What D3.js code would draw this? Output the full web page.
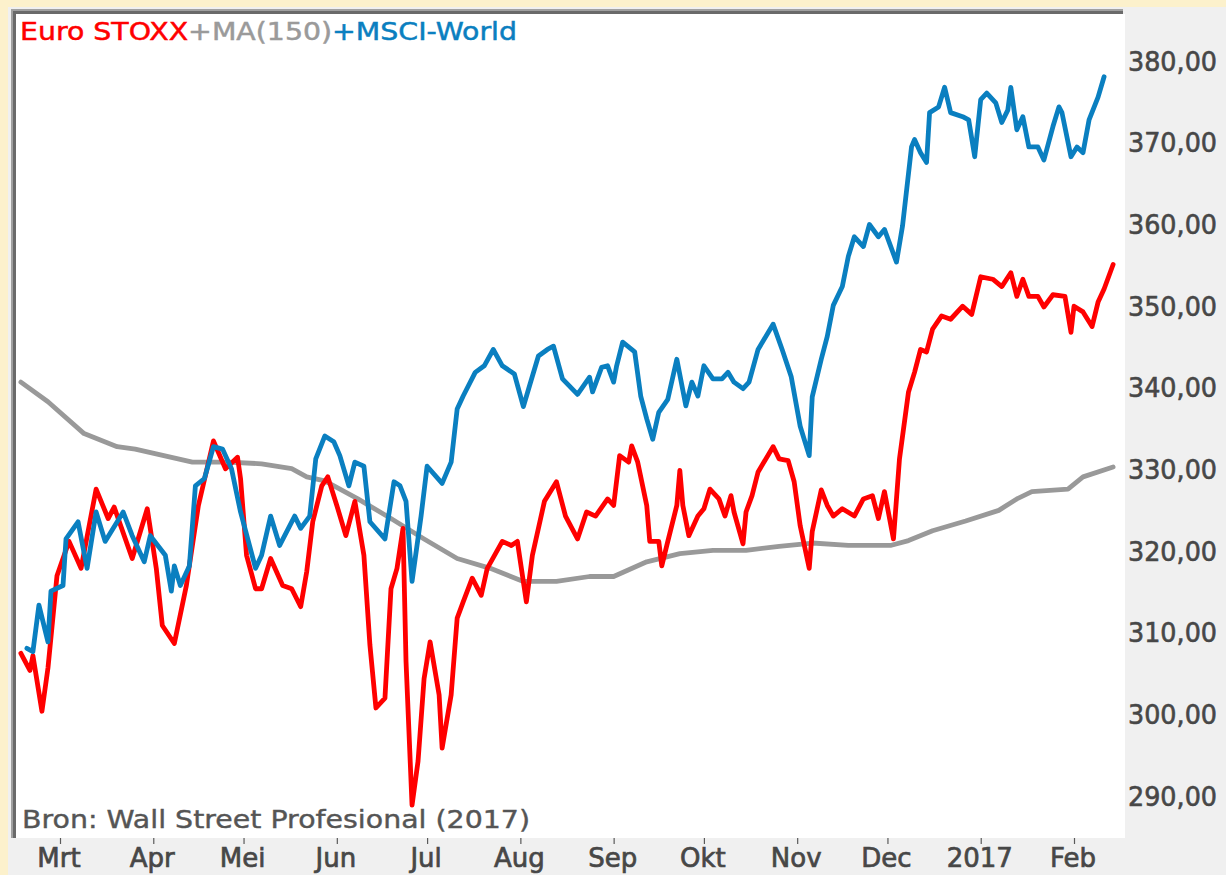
<!DOCTYPE html>
<html>
<head>
<meta charset="utf-8">
<script src="https://cdn.jsdelivr.net/npm/d3@7"></script>
<style>
  html, body { margin: 0; padding: 0; background: #fcf1cc; }
  svg { display: block; }
</style>
</head>
<body>
<div id="chart"></div>
<script>
// Euro STOXX (rood)
const euroStoxx = [
  ['2016-02-17', 307.6], ['2016-02-20', 305.5], ['2016-02-21', 307.3], ['2016-02-24', 300.5], ['2016-02-26', 305.8], ['2016-02-29', 317.1],
  ['2016-03-04', 321.3], ['2016-03-08', 318.0], ['2016-03-13', 327.7], ['2016-03-17', 324.1], ['2016-03-19', 325.5], ['2016-03-25', 319.2], ['2016-03-30', 325.3],
  ['2016-04-02', 318.0], ['2016-04-04', 311.0], ['2016-04-08', 308.8], ['2016-04-12', 315.9], ['2016-04-16', 325.7], ['2016-04-21', 333.6], ['2016-04-25', 330.2], ['2016-04-29', 331.6], ['2016-04-30', 329.0],
  ['2016-05-02', 319.6], ['2016-05-05', 315.5], ['2016-05-07', 315.5], ['2016-05-10', 319.2], ['2016-05-14', 315.9], ['2016-05-17', 315.5], ['2016-05-20', 313.3], ['2016-05-22', 317.6], ['2016-05-24', 323.7], ['2016-05-27', 328.1], ['2016-05-29', 329.2],
  ['2016-06-01', 325.7], ['2016-06-04', 322.0], ['2016-06-07', 326.2], ['2016-06-10', 319.6], ['2016-06-12', 308.6], ['2016-06-14', 300.9], ['2016-06-17', 302.1], ['2016-06-19', 315.5], ['2016-06-21', 318.0], ['2016-06-23', 322.9], ['2016-06-24', 306.6], ['2016-06-26', 289.0], ['2016-06-28', 294.4], ['2016-06-30', 304.5],
  ['2016-07-02', 309.0], ['2016-07-05', 302.5], ['2016-07-06', 296.0], ['2016-07-09', 302.5], ['2016-07-11', 311.9], ['2016-07-13', 313.9], ['2016-07-16', 316.8], ['2016-07-19', 314.7], ['2016-07-21', 318.0], ['2016-07-26', 321.3], ['2016-07-29', 320.8], ['2016-07-31', 321.3],
  ['2016-08-03', 313.9], ['2016-08-05', 319.6], ['2016-08-09', 326.2], ['2016-08-13', 328.6], ['2016-08-16', 324.4], ['2016-08-20', 321.6], ['2016-08-23', 324.9], ['2016-08-26', 324.4], ['2016-08-30', 326.5],
  ['2016-09-01', 325.7], ['2016-09-03', 331.8], ['2016-09-06', 331.0], ['2016-09-07', 333.0], ['2016-09-09', 331.0], ['2016-09-12', 325.7], ['2016-09-13', 321.3], ['2016-09-16', 321.3], ['2016-09-17', 318.3], ['2016-09-19', 321.3], ['2016-09-22', 325.7], ['2016-09-23', 330.0], ['2016-09-24', 325.7], ['2016-09-26', 322.0], ['2016-09-29', 324.4],
  ['2016-10-01', 325.3], ['2016-10-03', 327.7], ['2016-10-06', 326.5], ['2016-10-08', 324.4], ['2016-10-10', 326.9], ['2016-10-11', 324.9], ['2016-10-14', 321.0], ['2016-10-15', 324.9], ['2016-10-17', 326.9], ['2016-10-19', 329.8], ['2016-10-24', 332.9], ['2016-10-26', 331.4], ['2016-10-29', 331.2], ['2016-10-31', 328.6],
  ['2016-11-02', 323.2], ['2016-11-05', 318.0], ['2016-11-06', 322.5], ['2016-11-09', 327.6], ['2016-11-11', 325.7], ['2016-11-13', 324.4], ['2016-11-16', 325.3], ['2016-11-20', 324.4], ['2016-11-23', 326.5], ['2016-11-26', 326.9], ['2016-11-28', 324.1], ['2016-11-30', 327.4],
  ['2016-12-03', 321.6], ['2016-12-05', 331.4], ['2016-12-08', 339.6], ['2016-12-10', 342.0], ['2016-12-12', 344.8], ['2016-12-14', 344.5], ['2016-12-16', 347.3], ['2016-12-19', 348.9], ['2016-12-22', 348.5], ['2016-12-26', 350.1], ['2016-12-29', 349.1],
  ['2017-01-01', 353.7], ['2017-01-05', 353.4], ['2017-01-08', 352.5], ['2017-01-11', 354.2], ['2017-01-13', 351.3], ['2017-01-15', 353.4], ['2017-01-17', 351.3], ['2017-01-20', 351.3], ['2017-01-22', 350.0], ['2017-01-25', 351.5], ['2017-01-29', 351.3], ['2017-01-31', 346.9],
  ['2017-02-01', 350.1], ['2017-02-04', 349.4], ['2017-02-07', 347.6], ['2017-02-09', 350.6], ['2017-02-11', 352.2], ['2017-02-14', 355.2],
];

// MSCI World (blauw)
const msciWorld = [
  ['2016-02-19', 308.2], ['2016-02-21', 307.8], ['2016-02-23', 313.5], ['2016-02-26', 309.0], ['2016-02-27', 315.2],
  ['2016-03-02', 315.9], ['2016-03-03', 321.6], ['2016-03-07', 323.7], ['2016-03-10', 318.0], ['2016-03-13', 324.9], ['2016-03-16', 321.3], ['2016-03-22', 324.9], ['2016-03-25', 322.0], ['2016-03-29', 318.8], ['2016-03-31', 322.0],
  ['2016-04-05', 319.6], ['2016-04-07', 315.2], ['2016-04-08', 318.3], ['2016-04-10', 315.9], ['2016-04-13', 318.3], ['2016-04-15', 328.1], ['2016-04-18', 329.0], ['2016-04-21', 332.9], ['2016-04-24', 332.6], ['2016-04-27', 330.2], ['2016-04-30', 324.9],
  ['2016-05-05', 318.0], ['2016-05-07', 319.6], ['2016-05-10', 324.4], ['2016-05-13', 320.8], ['2016-05-18', 324.4], ['2016-05-20', 322.9], ['2016-05-23', 324.4], ['2016-05-25', 331.4], ['2016-05-28', 334.2], ['2016-05-31', 333.5],
  ['2016-06-02', 331.8], ['2016-06-05', 328.1], ['2016-06-07', 331.0], ['2016-06-10', 330.5], ['2016-06-12', 323.7], ['2016-06-17', 321.6], ['2016-06-20', 328.6], ['2016-06-22', 328.1], ['2016-06-24', 326.2], ['2016-06-26', 316.4], ['2016-06-29', 324.4],
  ['2016-07-01', 330.5], ['2016-07-06', 328.4], ['2016-07-09', 331.0], ['2016-07-11', 337.5], ['2016-07-13', 339.1], ['2016-07-17', 342.0], ['2016-07-20', 342.8], ['2016-07-23', 344.8], ['2016-07-26', 342.8], ['2016-07-30', 341.8],
  ['2016-08-02', 337.8], ['2016-08-04', 340.3], ['2016-08-07', 344.0], ['2016-08-10', 344.8], ['2016-08-12', 345.2], ['2016-08-15', 341.2], ['2016-08-20', 339.3], ['2016-08-24', 341.4], ['2016-08-25', 339.6], ['2016-08-28', 342.6], ['2016-08-30', 342.8],
  ['2016-09-01', 340.8], ['2016-09-02', 342.8], ['2016-09-04', 345.7], ['2016-09-08', 344.5], ['2016-09-10', 339.1], ['2016-09-12', 336.3], ['2016-09-14', 333.8], ['2016-09-16', 337.1], ['2016-09-19', 338.7], ['2016-09-22', 343.6], ['2016-09-25', 337.9], ['2016-09-27', 340.8], ['2016-09-29', 339.1],
  ['2016-10-01', 342.8], ['2016-10-04', 341.2], ['2016-10-07', 341.2], ['2016-10-09', 342.0], ['2016-10-11', 340.8], ['2016-10-14', 340.0], ['2016-10-16', 340.8], ['2016-10-19', 344.8], ['2016-10-24', 347.9], ['2016-10-27', 344.8], ['2016-10-30', 341.5],
  ['2016-11-02', 335.4], ['2016-11-05', 331.8], ['2016-11-06', 339.0], ['2016-11-09', 343.6], ['2016-11-11', 346.4], ['2016-11-13', 350.2], ['2016-11-16', 352.5], ['2016-11-18', 356.2], ['2016-11-20', 358.6], ['2016-11-23', 357.4], ['2016-11-25', 360.1], ['2016-11-28', 358.6], ['2016-11-30', 359.5],
  ['2016-12-04', 355.5], ['2016-12-06', 359.9], ['2016-12-09', 369.6], ['2016-12-10', 370.5], ['2016-12-12', 368.9], ['2016-12-14', 367.7], ['2016-12-15', 373.8], ['2016-12-18', 374.5], ['2016-12-20', 376.9], ['2016-12-22', 373.8], ['2016-12-26', 373.3], ['2016-12-28', 372.9], ['2016-12-30', 368.4],
  ['2017-01-01', 375.4], ['2017-01-03', 376.2], ['2017-01-06', 375.0], ['2017-01-08', 372.6], ['2017-01-10', 374.1], ['2017-01-11', 376.9], ['2017-01-13', 371.7], ['2017-01-15', 373.3], ['2017-01-17', 369.6], ['2017-01-20', 369.6], ['2017-01-22', 368.0], ['2017-01-25', 372.1], ['2017-01-27', 374.5], ['2017-01-28', 373.8], ['2017-01-31', 368.4],
  ['2017-02-02', 369.6], ['2017-02-04', 368.9], ['2017-02-06', 372.9], ['2017-02-09', 375.7], ['2017-02-11', 378.2],
];

// MA(150) van de Euro STOXX (grijs)
const movingAvg = [
  ['2016-02-17', 340.8], ['2016-02-26', 338.4], ['2016-03-09', 334.5], ['2016-03-20', 332.9], ['2016-03-26', 332.6], ['2016-04-14', 331.0], ['2016-04-26', 331.0],
  ['2016-05-07', 330.8], ['2016-05-17', 330.2], ['2016-05-22', 329.2], ['2016-05-28', 328.7], ['2016-06-08', 326.5], ['2016-06-19', 324.1], ['2016-06-30', 321.6],
  ['2016-07-11', 319.2], ['2016-07-22', 318.0], ['2016-08-02', 316.4], ['2016-08-13', 316.4], ['2016-08-24', 317.0], ['2016-09-01', 317.0], ['2016-09-12', 318.8],
  ['2016-09-23', 319.8], ['2016-10-04', 320.2], ['2016-10-15', 320.2], ['2016-10-26', 320.7], ['2016-11-06', 321.1], ['2016-11-18', 320.8], ['2016-12-02', 320.8],
  ['2016-12-08', 321.4], ['2016-12-16', 322.6], ['2016-12-27', 323.8], ['2017-01-07', 325.1], ['2017-01-13', 326.5], ['2017-01-18', 327.4], ['2017-01-30', 327.7],
  ['2017-02-04', 329.2], ['2017-02-14', 330.4],
];

const monthTicks = ['2016-03-01', '2016-04-01', '2016-05-01', '2016-06-01', '2016-07-01', '2016-08-01',
  '2016-09-01', '2016-10-01', '2016-11-01', '2016-12-01', '2017-01-01', '2017-02-01'];
const monthLabels = ['Mrt', 'Apr', 'Mei', 'Jun', 'Jul', 'Aug', 'Sep', 'Okt', 'Nov', 'Dec', '2017', 'Feb'];
const priceTicks = [290, 300, 310, 320, 330, 340, 350, 360, 370, 380];

const titleParts = [
  { text: 'Euro STOXX', color: '#ff0000' },
  { text: '+MA(150)', color: '#9a9a9a' },
  { text: '+MSCI-World', color: '#0a7fc0' },
];
const sourceText = 'Bron: Wall Street Profesional (2017)';

const width = 1226;
const height = 875;
const plot = { left: 16, top: 14, right: 1125, bottom: 838 };
const fontFamily = '"DejaVu Sans", Verdana, sans-serif';

const parseDate = d3.timeParse('%Y-%m-%d');
const nl = d3.formatLocale({ decimal: ',', thousands: '.', grouping: [3], currency: ['€', ''] });
const priceFormat = nl.format('.2f');

const x = d3.scaleTime()
  .domain([parseDate('2016-03-01'), parseDate('2017-02-01')])
  .range([60, 1074]);

const y = d3.scaleLinear()
  .domain([290, 380])
  .range([797, 62]);

const svg = d3.select('#chart')
  .append('svg')
  .attr('width', width)
  .attr('height', height);

// achtergrond
svg.append('rect')
  .attr('x', 0).attr('y', 0)
  .attr('width', width).attr('height', height)
  .attr('fill', '#fcf1cc');

svg.append('rect')
  .attr('x', 8).attr('y', 7)
  .attr('width', width - 8).attr('height', height - 7)
  .attr('fill', '#f0f0f0');

svg.append('rect')
  .attr('x', plot.left).attr('y', plot.top)
  .attr('width', plot.right - plot.left).attr('height', plot.bottom - plot.top)
  .attr('fill', '#ffffff');

// verzonken rand links en boven
svg.append('path')
  .attr('d', `M${plot.left - 4},${plot.bottom} V${plot.top - 4} H${plot.right - 2}`)
  .attr('fill', 'none')
  .attr('stroke', '#a0a0a0')
  .attr('stroke-width', 2);

svg.append('path')
  .attr('d', `M${plot.left - 1.5},${plot.bottom} V${plot.top - 1.5} H${plot.right - 2}`)
  .attr('fill', 'none')
  .attr('stroke', '#6a6a6a')
  .attr('stroke-width', 3);

svg.append('clipPath')
  .attr('id', 'plot-clip')
  .append('rect')
  .attr('x', plot.left).attr('y', plot.top)
  .attr('width', plot.right - plot.left).attr('height', plot.bottom - plot.top);

// x-as
const xAxis = d3.axisBottom(x)
  .tickValues(monthTicks.map(parseDate))
  .tickFormat((d, i) => monthLabels[i])
  .tickSize(6)
  .tickPadding(4);

const xAxisGroup = svg.append('g')
  .attr('transform', `translate(0,${plot.bottom})`)
  .call(xAxis);

xAxisGroup.select('.domain').remove();
xAxisGroup.selectAll('.tick line')
  .attr('stroke', '#5a5a5a')
  .attr('stroke-width', 1.2);
xAxisGroup.selectAll('.tick text')
  .attr('fill', '#474747')
  .attr('stroke', '#474747')
  .attr('stroke-width', 0.7)
  .attr('font-family', fontFamily)
  .attr('font-size', 26)
  .attr('dy', '0.72em')
  .attr('dx', -1.5);

// y-as rechts
const yAxis = d3.axisRight(y)
  .tickValues(priceTicks)
  .tickFormat(priceFormat)
  .tickSize(0)
  .tickPadding(0);

const yAxisGroup = svg.append('g')
  .attr('transform', 'translate(1128,0)')
  .call(yAxis);

yAxisGroup.select('.domain').remove();
yAxisGroup.selectAll('.tick text')
  .attr('fill', '#474747')
  .attr('stroke', '#474747')
  .attr('stroke-width', 0.6)
  .attr('font-family', fontFamily)
  .attr('font-size', 26)
  .attr('textLength', 89)
  .attr('lengthAdjust', 'spacingAndGlyphs');

// lijnen
const line = d3.line()
  .x((d) => x(parseDate(d[0])))
  .y((d) => y(d[1]));

const lines = svg.append('g')
  .attr('clip-path', 'url(#plot-clip)');

const series = [
  { data: movingAvg, color: '#999999' },
  { data: euroStoxx, color: '#ff0000' },
  { data: msciWorld, color: '#0a7fc0' },
];

lines.selectAll('path')
  .data(series)
  .join('path')
  .attr('d', (s) => line(s.data))
  .attr('fill', 'none')
  .attr('stroke', (s) => s.color)
  .attr('stroke-width', 4.8)
  .attr('stroke-linejoin', 'round')
  .attr('stroke-linecap', 'round');

// titel
const title = svg.append('text')
  .attr('x', 20)
  .attr('y', 40)
  .attr('font-family', fontFamily)
  .attr('font-size', 25)
  .attr('stroke-width', 0.5)
  .attr('textLength', 497)
  .attr('lengthAdjust', 'spacingAndGlyphs');

title.selectAll('tspan')
  .data(titleParts)
  .join('tspan')
  .attr('fill', (d) => d.color)
  .attr('stroke', (d) => d.color)
  .text((d) => d.text);

// bron
svg.append('text')
  .attr('x', 22)
  .attr('y', 828)
  .attr('font-family', fontFamily)
  .attr('font-size', 25)
  .attr('fill', '#555555')
  .attr('stroke', '#555555')
  .attr('stroke-width', 0.4)
  .attr('textLength', 508)
  .attr('lengthAdjust', 'spacingAndGlyphs')
  .text(sourceText);
</script>
</body>
</html>
